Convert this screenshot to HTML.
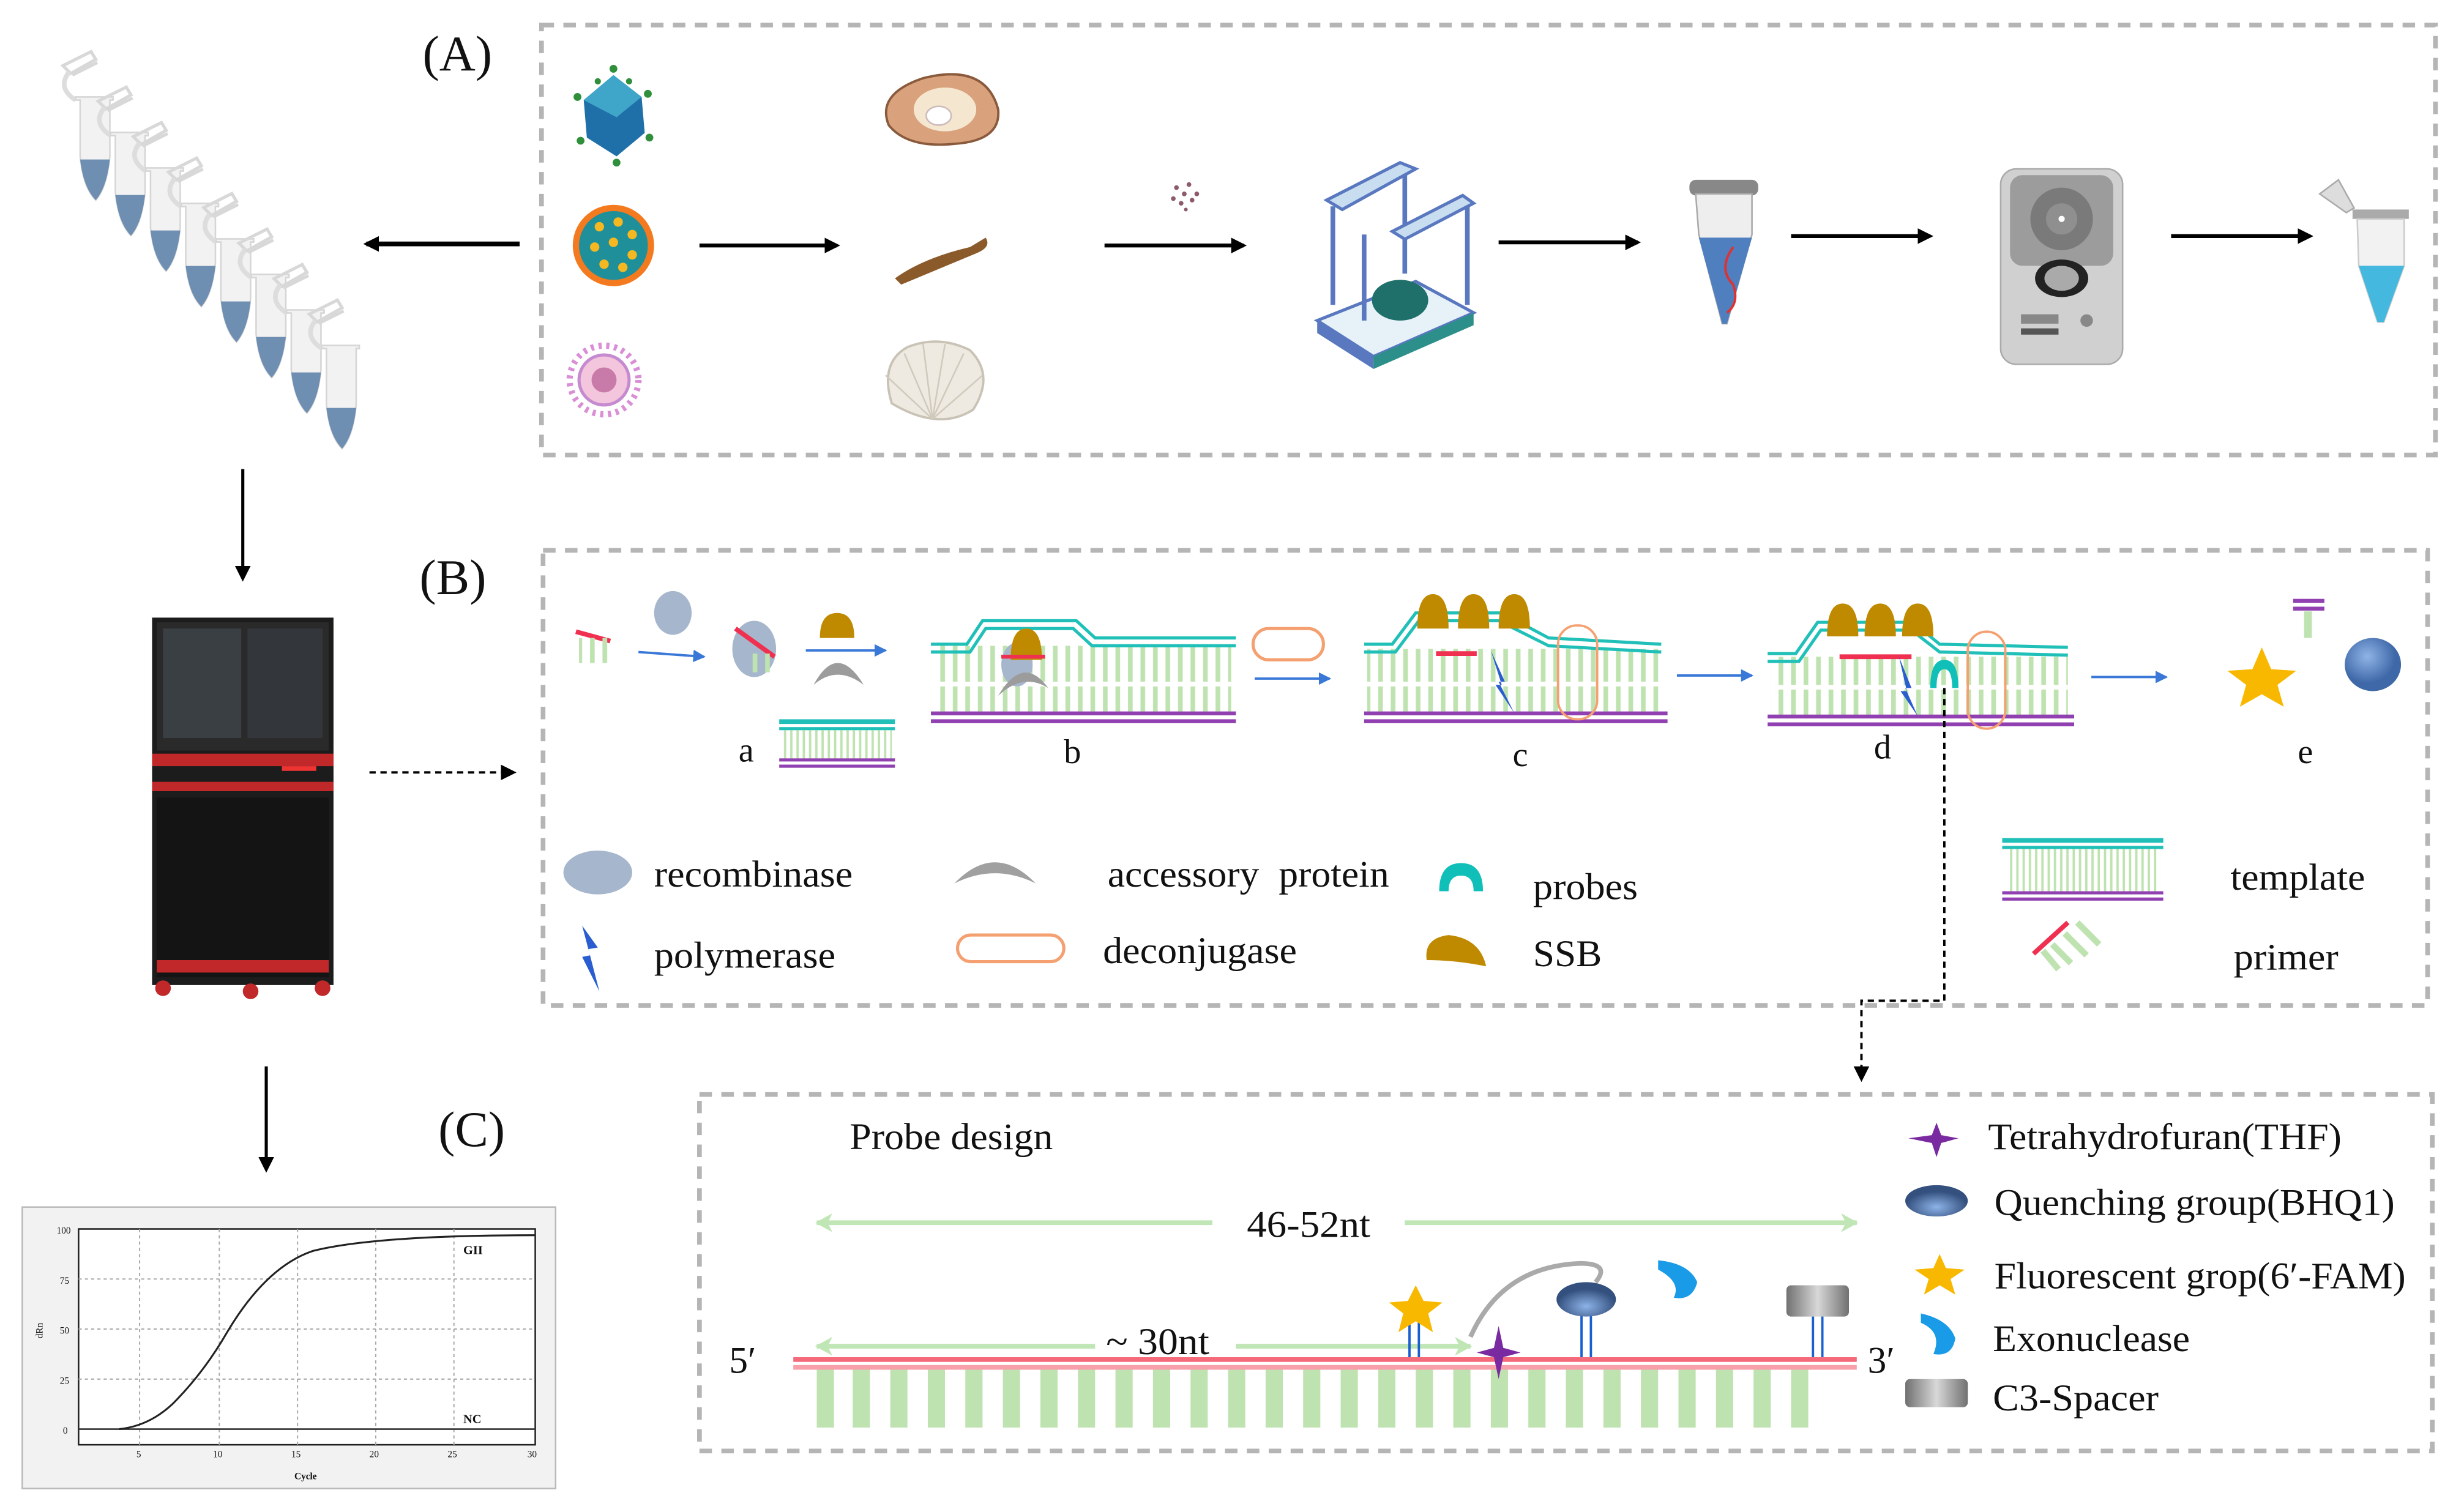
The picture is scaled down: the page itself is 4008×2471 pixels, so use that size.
<!DOCTYPE html>
<html><head><meta charset="utf-8"><style>
html,body{margin:0;padding:0;background:#fff;}
svg{display:block;}
text{font-family:"Liberation Serif",serif;fill:#111;}
</style></head><body>
<svg width="4008" height="2471" viewBox="0 0 1568 967" xmlns="http://www.w3.org/2000/svg">
<defs>
<marker id="ah" markerWidth="10" markerHeight="10" refX="8" refY="5" orient="auto" markerUnits="userSpaceOnUse"><path d="M0,0 L10,5 L0,10 Z" fill="#000"/></marker>
<marker id="ahb" markerWidth="8" markerHeight="8" refX="7" refY="4" orient="auto" markerUnits="userSpaceOnUse"><path d="M0,0 L8,4 L0,8 Z" fill="#3a78d8"/></marker>
<marker id="ahg" markerWidth="12" markerHeight="12" refX="10" refY="6" orient="auto" markerUnits="userSpaceOnUse"><path d="M0,0 L11,6 L0,12 L3,6 Z" fill="#bfe6b4"/></marker>
<pattern id="bars" width="8" height="10" patternUnits="userSpaceOnUse"><rect x="1" y="0" width="3" height="10" fill="#bfe3b0"/></pattern>
<pattern id="fbars" width="4" height="10" patternUnits="userSpaceOnUse"><rect x="1" y="0" width="1.5" height="10" fill="#bfe3b0"/></pattern>
<radialGradient id="rg" cx="0.4" cy="0.35"><stop offset="0" stop-color="#8fb4e6"/><stop offset="1" stop-color="#3f68a8"/></radialGradient>
<radialGradient id="qg" cx="0.5" cy="0.7"><stop offset="0" stop-color="#8db3e8"/><stop offset="1" stop-color="#34507e"/></radialGradient>
<linearGradient id="cg" x1="0" x2="1"><stop offset="0" stop-color="#707070"/><stop offset="0.5" stop-color="#d8d8d8"/><stop offset="1" stop-color="#707070"/></linearGradient>
</defs>

<rect x="346" y="16" width="1211" height="275" fill="none" stroke="#b5b5b5" stroke-width="3" stroke-dasharray="8 6"/>
<rect x="347" y="352" width="1205" height="291" fill="none" stroke="#b5b5b5" stroke-width="3" stroke-dasharray="8 6"/>
<rect x="447" y="700" width="1108" height="228" fill="none" stroke="#b5b5b5" stroke-width="3" stroke-dasharray="8 6"/>

<text x="270" y="45" font-size="32">(A)</text>
<text x="268" y="380" font-size="32">(B)</text>
<text x="280" y="733" font-size="32">(C)</text>

<!-- Tubes strip -->
<g>
<g id="tube">
<path d="M40,42 L58,33 L61,38 L45,47 Z M46,48 L62,40" fill="none" stroke="#d8d8d8" stroke-width="2"/>
<path d="M44,46 Q36,56 48,64" fill="none" stroke="#ddd" stroke-width="3"/>
<path d="M48,62 L72,62 L72,64 L70,64 L70,100 Q68,120 61,128 Q53,120 51,100 L51,64 L48,64 Z" fill="#f2f2f2" stroke="#d6d6d6" stroke-width="1"/>
<path d="M51,102 L70,102 Q68,120 61,128 Q53,120 51,102 Z" fill="#6f8fb2"/>
</g>
<use href="#tube" x="22.5" y="22.7"/><use href="#tube" x="45" y="45.4"/><use href="#tube" x="67.5" y="68.1"/>
<use href="#tube" x="90" y="90.8"/><use href="#tube" x="112.5" y="113.5"/><use href="#tube" x="135" y="136.2"/><use href="#tube" x="157.5" y="158.9"/>
</g>

<line x1="332" y1="156" x2="234" y2="156" stroke="#000" stroke-width="3" marker-end="url(#ah)"/>
<line x1="447" y1="157" x2="535" y2="157" stroke="#000" stroke-width="2.5" marker-end="url(#ah)"/>
<line x1="706" y1="157" x2="795" y2="157" stroke="#000" stroke-width="2.5" marker-end="url(#ah)"/>
<line x1="958" y1="155" x2="1047" y2="155" stroke="#000" stroke-width="2.5" marker-end="url(#ah)"/>
<line x1="1145" y1="151" x2="1234" y2="151" stroke="#000" stroke-width="2.5" marker-end="url(#ah)"/>
<line x1="1388" y1="151" x2="1477" y2="151" stroke="#000" stroke-width="2.5" marker-end="url(#ah)"/>

<g>
<polygon points="392,48 410,62 412,85 394,100 375,88 373,64" fill="#1f6fa8"/>
<polygon points="392,48 410,62 394,75 373,64" fill="#3fa6c9"/>
<g fill="#2f8f3a"><circle cx="392" cy="44" r="2.5"/><circle cx="414" cy="60" r="2.5"/><circle cx="415" cy="88" r="2.5"/><circle cx="394" cy="104" r="2.5"/><circle cx="371" cy="90" r="2.5"/><circle cx="369" cy="62" r="2.5"/><circle cx="402" cy="52" r="2"/><circle cx="382" cy="52" r="2"/></g>
<circle cx="392" cy="157" r="26" fill="#f47a20"/>
<circle cx="392" cy="157" r="22" fill="#1f8f9a"/>
<g fill="#f5b820"><circle cx="383" cy="145" r="3"/><circle cx="395" cy="142" r="3"/><circle cx="404" cy="150" r="3"/><circle cx="380" cy="158" r="3"/><circle cx="392" cy="155" r="3"/><circle cx="404" cy="163" r="3"/><circle cx="386" cy="169" r="3"/><circle cx="398" cy="171" r="3"/></g>
<circle cx="386" cy="243" r="22" fill="none" stroke="#d98ed6" stroke-width="4" stroke-dasharray="2 3"/>
<circle cx="386" cy="243" r="16" fill="#f3c6de" stroke="#c68ad0" stroke-width="2"/>
<circle cx="386" cy="243" r="8" fill="#c87aa8"/>
</g>

<g>
<path d="M568,80 Q560,60 590,50 Q630,40 638,70 Q640,90 610,92 Q580,95 568,80 Z" fill="#d9a27c" stroke="#8a5a3c" stroke-width="1.5"/>
<ellipse cx="604" cy="70" rx="20" ry="14" fill="#f5e6cf"/>
<ellipse cx="600" cy="74" rx="8" ry="6" fill="#fff" stroke="#cbb"/>
<path d="M572,178 Q590,165 620,158 L630,152 Q634,158 624,162 Q600,172 576,182 Z" fill="#8b5a2b"/>
<path d="M570,258 Q562,232 580,222 Q600,214 620,224 Q636,240 622,262 Q600,276 570,258 Z" fill="#eeeae2" stroke="#c9c3b6" stroke-width="1.5"/>
<g stroke="#d0cabc" stroke-width="1"><line x1="596" y1="268" x2="578" y2="226"/><line x1="596" y1="268" x2="590" y2="220"/><line x1="596" y1="268" x2="604" y2="220"/><line x1="596" y1="268" x2="616" y2="226"/><line x1="596" y1="268" x2="628" y2="240"/><line x1="596" y1="268" x2="566" y2="240"/></g>
</g>
<g fill="#8d5a6a"><circle cx="752" cy="120" r="1.5"/><circle cx="757" cy="124" r="1.5"/><circle cx="762" cy="128" r="1.5"/><circle cx="755" cy="130" r="1.5"/><circle cx="760" cy="118" r="1.5"/><circle cx="750" cy="127" r="1.5"/><circle cx="765" cy="124" r="1.5"/><circle cx="758" cy="134" r="1.2"/></g>

<g>
<polygon points="842,205 905,180 942,200 878,228" fill="#e6f2f8" stroke="#5a78c0" stroke-width="2"/>
<polygon points="842,205 878,228 878,236 842,213" fill="#5a78c0"/>
<polygon points="878,228 942,200 942,208 878,236" fill="#2d8f8a"/>
<g stroke="#5a78c0" stroke-width="3" fill="none"><line x1="852" y1="132" x2="852" y2="195"/><line x1="898" y1="112" x2="898" y2="175"/><line x1="938" y1="130" x2="938" y2="195"/><line x1="872" y1="150" x2="872" y2="205"/></g>
<polygon points="848,128 895,104 905,108 858,134" fill="#c8ddf0" stroke="#5a78c0" stroke-width="2"/>
<polygon points="890,148 935,125 942,130 898,153" fill="#c8ddf0" stroke="#5a78c0" stroke-width="2"/>
<ellipse cx="895" cy="192" rx="18" ry="13" fill="#1f6f6a"/>
</g>

<g>
<rect x="1080" y="115" width="44" height="10" rx="4" fill="#888"/>
<path d="M1084,124 L1120,124 L1120,150 L1104,207 L1101,207 L1086,150 Z" fill="#eee" stroke="#aaa"/>
<path d="M1086,152 L1120,152 L1104,207 L1101,207 Z" fill="#4f7fbf"/>
<path d="M1108,158 Q1098,172 1108,182 Q1112,194 1104,200" stroke="#e03030" stroke-width="1.5" fill="none"/>
</g>

<g>
<rect x="1279" y="108" width="78" height="125" rx="10" fill="#d0d0d0" stroke="#aaa"/>
<rect x="1285" y="112" width="66" height="58" rx="8" fill="#9c9c9c"/>
<ellipse cx="1318" cy="140" rx="20" ry="20" fill="#7a7a7a"/>
<ellipse cx="1318" cy="140" rx="10" ry="10" fill="#8f8f8f"/>
<circle cx="1318" cy="140" r="2" fill="#fff"/>
<ellipse cx="1318" cy="178" rx="17" ry="12" fill="#222"/>
<ellipse cx="1318" cy="178" rx="11" ry="8" fill="#aaa"/>
<rect x="1292" y="201" width="24" height="6" fill="#888"/>
<rect x="1292" y="210" width="24" height="4" fill="#555"/>
<circle cx="1334" cy="205" r="4" fill="#888"/>
</g>

<g>
<path d="M1483,124 L1495,115 L1505,133 L1500,136 Z" fill="#ddd" stroke="#aaa"/>
<rect x="1504" y="134" width="36" height="6" fill="#aaa"/>
<path d="M1507,140 L1537,140 L1537,170 L1524,206 L1520,206 L1508,170 Z" fill="#f2f2f2" stroke="#ccc"/>
<path d="M1508,170 L1537,170 L1524,206 L1520,206 Z" fill="#45b8e0"/>
</g>

<line x1="155" y1="300" x2="155" y2="370" stroke="#000" stroke-width="2" marker-end="url(#ah)"/>
<line x1="170" y1="682" x2="170" y2="748" stroke="#000" stroke-width="2" marker-end="url(#ah)"/>
<line x1="236" y1="494" x2="328" y2="494" stroke="#000" stroke-width="1.5" stroke-dasharray="4 3" marker-end="url(#ah)"/>

<g>
<rect x="97" y="395" width="116" height="235" fill="#1c1c1c"/>
<rect x="100" y="398" width="110" height="82" fill="#2a2a2a"/>
<rect x="104" y="402" width="50" height="70" fill="#3a3f44"/>
<rect x="158" y="402" width="48" height="70" fill="#33363a"/>
<rect x="97" y="482" width="116" height="8" fill="#c0282a"/>
<rect x="180" y="490" width="22" height="3" fill="#e33"/>
<rect x="97" y="500" width="116" height="6" fill="#c0282a"/>
<rect x="100" y="510" width="110" height="115" fill="#141414"/>
<rect x="100" y="614" width="110" height="8" fill="#c0282a"/>
<circle cx="104" cy="632" r="5" fill="#c0282a"/><circle cx="160" cy="634" r="5" fill="#c0282a"/><circle cx="206" cy="632" r="5" fill="#c0282a"/>
</g>

<g>
<rect x="14" y="772" width="341" height="180" fill="#f2f2f2" stroke="#bbb"/>
<rect x="50" y="786" width="292" height="138" fill="#fff" stroke="#222" stroke-width="1"/>
<g stroke="#aaa" stroke-width="0.8" stroke-dasharray="2 2">
<line x1="50" y1="818" x2="342" y2="818"/><line x1="50" y1="850" x2="342" y2="850"/><line x1="50" y1="882" x2="342" y2="882"/>
<line x1="89" y1="786" x2="89" y2="924"/><line x1="140" y1="786" x2="140" y2="924"/><line x1="190" y1="786" x2="190" y2="924"/><line x1="240" y1="786" x2="240" y2="924"/><line x1="290" y1="786" x2="290" y2="924"/>
</g>
<line x1="50" y1="914" x2="342" y2="914" stroke="#333" stroke-width="1"/>
<path d="M76,914 Q95,912 110,898 Q130,878 145,852 Q170,810 200,800 Q240,790 342,790" fill="none" stroke="#222" stroke-width="1.2"/>
<text x="296" y="802" font-size="8" font-weight="bold">GII</text>
<text x="296" y="910" font-size="8" font-weight="bold">NC</text>
<g font-size="6" font-family="Liberation Sans"><text x="36" y="789">100</text><text x="38" y="821">75</text><text x="38" y="853">50</text><text x="38" y="885">25</text><text x="40" y="917">0</text>
<text x="87" y="932">5</text><text x="136" y="932">10</text><text x="186" y="932">15</text><text x="236" y="932">20</text><text x="286" y="932">25</text><text x="337" y="932">30</text>
<text x="188" y="946" font-weight="bold">Cycle</text><text x="27" y="856" transform="rotate(-90 27 856)">dRn</text></g>
</g>

<!-- Panel B -->
<g>
<line x1="368" y1="404" x2="390" y2="410" stroke="#f03050" stroke-width="3"/>
<rect x="370" y="408" width="20" height="16" fill="url(#bars)"/>
<line x1="408" y1="417" x2="450" y2="420" stroke="#3a78d8" stroke-width="1.5" marker-end="url(#ahb)"/>
<ellipse cx="430" cy="392" rx="12" ry="14" fill="#a6b6cc"/>
<ellipse cx="482" cy="415" rx="14" ry="18" fill="#a6b6cc"/>
<line x1="470" y1="402" x2="495" y2="420" stroke="#f03050" stroke-width="3"/>
<rect x="478" y="418" width="14" height="12" fill="url(#bars)"/>
<path d="M524,408 Q524,392 535,392 Q546,392 546,408 Z" fill="#c08a00"/>
<path d="M520,438 Q535,410 552,438 Q535,425 520,438 Z" fill="#9c9c9c"/>
<line x1="515" y1="416" x2="566" y2="416" stroke="#3a78d8" stroke-width="1.5" marker-end="url(#ahb)"/>
<rect x="498" y="460" width="74" height="3" fill="#20c0b8"/><rect x="498" y="465" width="74" height="2" fill="#20c0b8"/>
<rect x="500" y="467" width="70" height="18" fill="url(#fbars)"/>
<rect x="498" y="485" width="74" height="2" fill="#9040b0"/><rect x="498" y="489" width="74" height="2" fill="#9040b0"/>
<text x="472" y="487" font-size="22">a</text>
</g>
<g>
<rect x="597" y="413" width="190" height="42" fill="url(#bars)"/>
<rect x="597" y="436" width="190" height="3" fill="#fff"/>
<path d="M595,412 L618,412 L628,397 L688,397 L700,408 L790,408" fill="none" stroke="#20c0b8" stroke-width="2"/>
<path d="M595,417 L620,417 L630,402 L686,402 L698,413 L790,413" fill="none" stroke="#20c0b8" stroke-width="2"/>
<rect x="595" y="455" width="195" height="2.5" fill="#9040b0"/><rect x="595" y="460" width="195" height="2.5" fill="#9040b0"/>
<ellipse cx="650" cy="425" rx="10" ry="14" fill="#a6b6cc"/>
<path d="M646,422 Q646,402 656,402 Q666,402 666,422 Z" fill="#c08a00"/>
<line x1="640" y1="420" x2="668" y2="420" stroke="#f03050" stroke-width="2.5"/>
<path d="M638,445 Q654,418 670,440 Q654,430 638,445 Z" fill="#9c9c9c"/>
<text x="680" y="488" font-size="22">b</text>
</g>
<rect x="801" y="402" width="45" height="20" rx="10" fill="none" stroke="#f5a070" stroke-width="2"/>
<line x1="802" y1="434" x2="850" y2="434" stroke="#3a78d8" stroke-width="1.5" marker-end="url(#ahb)"/>
<g>
<rect x="874" y="415" width="188" height="40" fill="url(#bars)"/>
<rect x="874" y="436" width="188" height="3" fill="#fff"/>
<path d="M872,412 L890,412 L905,392 L960,392 L990,408 L1062,412" fill="none" stroke="#20c0b8" stroke-width="2"/>
<path d="M872,417 L892,417 L907,397 L958,397 L990,413 L1062,417" fill="none" stroke="#20c0b8" stroke-width="2"/>
<rect x="872" y="455" width="194" height="2.5" fill="#9040b0"/><rect x="872" y="460" width="194" height="2.5" fill="#9040b0"/>
<path d="M906,402 Q906,380 916,380 Q926,380 926,402 Z" fill="#c08a00"/>
<path d="M932,402 Q932,380 942,380 Q952,380 952,402 Z" fill="#c08a00"/>
<path d="M958,402 Q958,380 968,380 Q978,380 978,402 Z" fill="#c08a00"/>
<line x1="918" y1="418" x2="944" y2="418" stroke="#f03050" stroke-width="3"/>
<path d="M953,416 L962,436 L958,436 L968,456 L956,438 L960,438 Z" fill="#2a5ed0"/>
<rect x="996" y="400" width="25" height="60" rx="12" fill="none" stroke="#f5a070" stroke-width="1.5"/>
<text x="967" y="490" font-size="22">c</text>
</g>
<line x1="1072" y1="432" x2="1120" y2="432" stroke="#3a78d8" stroke-width="1.5" marker-end="url(#ahb)"/>
<g>
<rect x="1132" y="420" width="190" height="38" fill="url(#bars)"/>
<rect x="1132" y="438" width="190" height="3" fill="#fff"/>
<path d="M1130,418 L1148,418 L1162,398 L1223,398 L1240,412 L1322,414" fill="none" stroke="#20c0b8" stroke-width="2"/>
<path d="M1130,423 L1150,423 L1164,403 L1222,403 L1240,417 L1322,419" fill="none" stroke="#20c0b8" stroke-width="2"/>
<rect x="1130" y="457" width="196" height="2.5" fill="#9040b0"/><rect x="1130" y="462" width="196" height="2.5" fill="#9040b0"/>
<path d="M1168,407 Q1168,386 1178,386 Q1188,386 1188,407 Z" fill="#c08a00"/>
<path d="M1192,407 Q1192,386 1202,386 Q1212,386 1212,407 Z" fill="#c08a00"/>
<path d="M1216,407 Q1216,386 1226,386 Q1236,386 1236,407 Z" fill="#c08a00"/>
<line x1="1176" y1="420" x2="1222" y2="420" stroke="#f03050" stroke-width="3"/>
<path d="M1214,420 L1222,440 L1218,440 L1226,458 L1215,442 L1219,442 Z" fill="#2a5ed0"/>
<path d="M1234,440 Q1234,422 1243,422 Q1252,422 1252,440 L1248,440 Q1248,428 1243,428 Q1238,428 1238,440 Z" fill="#10c0b8"/>
<rect x="1258" y="404" width="24" height="62" rx="12" fill="none" stroke="#f5a070" stroke-width="1.5"/>
<text x="1198" y="485" font-size="22">d</text>
</g>
<path d="M1243,440 L1243,640 L1190,640 L1190,690" fill="none" stroke="#000" stroke-width="1.5" stroke-dasharray="4 3" marker-end="url(#ah)"/>
<line x1="1337" y1="433" x2="1385" y2="433" stroke="#3a78d8" stroke-width="1.5" marker-end="url(#ahb)"/>
<g>
<polygon points="1446,414 1452,428 1468,429 1456,438 1460,452 1446,444 1432,452 1436,438 1424,429 1440,428" fill="#f9b800"/>
<ellipse cx="1517" cy="425" rx="18" ry="17" fill="url(#rg)"/>
<rect x="1466" y="383" width="20" height="2.5" fill="#9040b0"/><rect x="1466" y="388" width="20" height="2.5" fill="#9040b0"/>
<rect x="1473" y="391" width="5" height="17" fill="#bfe3b0"/>
<text x="1469" y="488" font-size="22">e</text>
</g>

<g font-size="24">
<ellipse cx="382" cy="558" rx="22" ry="14" fill="#a6b6cc"/>
<text x="418" y="567" textLength="127" lengthAdjust="spacingAndGlyphs">recombinase</text>
<path d="M372,592 L382,606 L376,607 L383,634 L372,612 L377,611 Z" fill="#2a5ed0"/>
<text x="418" y="619" textLength="116" lengthAdjust="spacingAndGlyphs">polymerase</text>
<path d="M610,565 Q636,538 662,565 Q636,552 610,565 Z" fill="#a0a0a0"/>
<text x="708" y="567" textLength="180" lengthAdjust="spacingAndGlyphs">accessory&#160; protein</text>
<rect x="612" y="598" width="68" height="17" rx="8.5" fill="none" stroke="#f5a070" stroke-width="2"/>
<text x="705" y="616" textLength="124" lengthAdjust="spacingAndGlyphs">deconjugase</text>
<path d="M920,570 Q920,552 934,552 Q948,552 948,570 L942,570 Q942,560 934,560 Q926,560 926,570 Z" fill="#10c0b8"/>
<text x="980" y="575" textLength="67" lengthAdjust="spacingAndGlyphs">probes</text>
<path d="M912,614 Q910,600 926,598 Q946,600 950,618 Q930,614 912,614 Z" fill="#c08a00"/>
<text x="980" y="618" textLength="44" lengthAdjust="spacingAndGlyphs">SSB</text>
<rect x="1280" y="536" width="103" height="3" fill="#20c0b8"/><rect x="1280" y="541" width="103" height="2" fill="#20c0b8"/>
<rect x="1283" y="543" width="98" height="27" fill="url(#fbars)"/>
<rect x="1280" y="570" width="103" height="2" fill="#9040b0"/><rect x="1280" y="574" width="103" height="2" fill="#9040b0"/>
<text x="1426" y="569" textLength="86" lengthAdjust="spacingAndGlyphs">template</text>
<line x1="1300" y1="610" x2="1322" y2="590" stroke="#f03050" stroke-width="3"/>
<g stroke="#bfe3b0" stroke-width="4"><line x1="1312" y1="604" x2="1324" y2="616"/><line x1="1320" y1="597" x2="1334" y2="611"/><line x1="1328" y1="590" x2="1342" y2="604"/><line x1="1306" y1="608" x2="1316" y2="620"/></g>
<text x="1428" y="620" textLength="67" lengthAdjust="spacingAndGlyphs">primer</text>
</g>

<g font-size="24">
<text x="543" y="735" textLength="130" lengthAdjust="spacingAndGlyphs">Probe design</text>
<line x1="775" y1="782" x2="522" y2="782" stroke="#bfe6b4" stroke-width="3" marker-end="url(#ahg)"/>
<line x1="898" y1="782" x2="1187" y2="782" stroke="#bfe6b4" stroke-width="3" marker-end="url(#ahg)"/>
<text x="797" y="791" textLength="79" lengthAdjust="spacingAndGlyphs">46-52nt</text>
<line x1="700" y1="861" x2="522" y2="861" stroke="#bfe6b4" stroke-width="3" marker-end="url(#ahg)"/>
<line x1="790" y1="861" x2="940" y2="861" stroke="#bfe6b4" stroke-width="3" marker-end="url(#ahg)"/>
<text x="707" y="866" textLength="66" lengthAdjust="spacingAndGlyphs">~ 30nt</text>
<text x="466" y="878">5′</text>
<text x="1194" y="878">3′</text>
<g fill="#bfe3b0">
<rect x="522" y="875" width="11" height="38"/><rect x="545" y="875" width="11" height="38"/><rect x="569" y="875" width="11" height="38"/><rect x="593" y="875" width="11" height="38"/><rect x="617" y="875" width="11" height="38"/><rect x="641" y="875" width="11" height="38"/><rect x="665" y="875" width="11" height="38"/><rect x="689" y="875" width="11" height="38"/><rect x="713" y="875" width="11" height="38"/><rect x="737" y="875" width="11" height="38"/><rect x="761" y="875" width="11" height="38"/><rect x="785" y="875" width="11" height="38"/><rect x="809" y="875" width="11" height="38"/><rect x="833" y="875" width="11" height="38"/><rect x="857" y="875" width="11" height="38"/><rect x="881" y="875" width="11" height="38"/><rect x="905" y="875" width="11" height="38"/><rect x="929" y="875" width="11" height="38"/><rect x="953" y="875" width="11" height="38"/><rect x="977" y="875" width="11" height="38"/><rect x="1001" y="875" width="11" height="38"/><rect x="1025" y="875" width="11" height="38"/><rect x="1049" y="875" width="11" height="38"/><rect x="1073" y="875" width="11" height="38"/><rect x="1097" y="875" width="11" height="38"/><rect x="1121" y="875" width="11" height="38"/><rect x="1145" y="875" width="11" height="38"/>
</g>
<rect x="507" y="868" width="680" height="3" fill="#f56a7a"/>
<rect x="507" y="873" width="680" height="3" fill="#f8a0aa"/>
<g stroke="#1a5fd0" stroke-width="1.5">
<line x1="901" y1="842" x2="901" y2="868"/><line x1="907" y1="842" x2="907" y2="868"/>
<line x1="1011" y1="840" x2="1011" y2="868"/><line x1="1017" y1="840" x2="1017" y2="868"/>
<line x1="1159" y1="840" x2="1159" y2="868"/><line x1="1165" y1="840" x2="1165" y2="868"/>
</g>
<polygon points="905,822 910,832 922,833 913,840 916,852 905,845 894,852 897,840 888,833 900,832" fill="#f9b800"/>
<path d="M958,848 L961,862 L972,865 L961,868 L958,882 L955,868 L944,865 L955,862 Z" fill="#7a2aa0"/>
<ellipse cx="1014" cy="831" rx="19" ry="11" fill="url(#qg)"/>
<path d="M940,855 Q960,810 1010,808 Q1030,808 1020,820" fill="none" stroke="#aaa" stroke-width="3"/>
<path d="M1060,806 Q1080,808 1085,820 Q1082,832 1070,830 Q1075,820 1060,812 Z" fill="#1a9be8"/>
<rect x="1142" y="822" width="40" height="20" rx="3" fill="url(#cg)"/>
<path d="M1238,718 L1241,726 L1252,728 L1241,731 L1238,740 L1235,731 L1220,728 L1235,726 Z" fill="#7a2aa0"/>
<text x="1271" y="735" textLength="226" lengthAdjust="spacingAndGlyphs">Tetrahydrofuran(THF)</text>
<ellipse cx="1238" cy="768" rx="20" ry="10" fill="url(#qg)"/>
<text x="1275" y="777" textLength="256" lengthAdjust="spacingAndGlyphs">Quenching group(BHQ1)</text>
<polygon points="1240,802 1244,811 1256,812 1247,818 1250,828 1240,822 1230,828 1233,818 1224,812 1236,811" fill="#f9b800"/>
<text x="1275" y="824" textLength="263" lengthAdjust="spacingAndGlyphs">Fluorescent grop(6′-FAM)</text>
<path d="M1228,840 Q1246,844 1250,856 Q1248,868 1236,866 Q1242,852 1228,846 Z" fill="#1a9be8"/>
<text x="1274" y="864" textLength="126" lengthAdjust="spacingAndGlyphs">Exonuclease</text>
<rect x="1218" y="882" width="40" height="18" rx="3" fill="url(#cg)"/>
<text x="1274" y="902" textLength="106" lengthAdjust="spacingAndGlyphs">C3-Spacer</text>
</g>
</svg>
</body></html>
